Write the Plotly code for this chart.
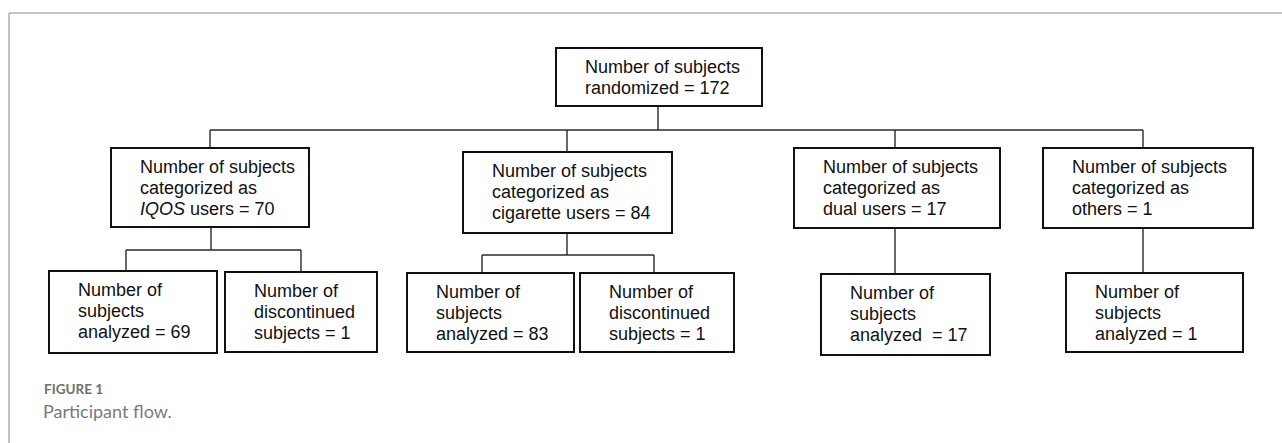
import plotly.graph_objects as go

# ---- data (node labels) ----
node_ids = ["root", "iqos", "cig", "dual", "others",
            "iqos_an", "iqos_dc", "cig_an", "cig_dc", "dual_an", "oth_an"]
node_lines = [
    ["Number of subjects", "randomized = 172"],
    ["Number of subjects", "categorized as", "<i>IQOS</i> users = 70"],
    ["Number of subjects", "categorized as", "cigarette users = 84"],
    ["Number of subjects", "categorized as", "dual users = 17"],
    ["Number of subjects", "categorized as", "others = 1"],
    ["Number of", "subjects", "analyzed = 69"],
    ["Number of", "discontinued", "subjects = 1"],
    ["Number of", "subjects", "analyzed = 83"],
    ["Number of", "discontinued", "subjects = 1"],
    ["Number of", "subjects", "analyzed  = 17"],
    ["Number of", "subjects", "analyzed = 1"],
]
caption_label = "FIGURE 1"
caption_text = "Participant flow."

# ---- layout (pixel geometry: left, right, top, bottom) ----
box_x0 = [556, 111, 463, 794, 1043, 49, 225, 407, 580, 821, 1066]
box_x1 = [762, 309, 672, 1000, 1253, 217, 377, 574, 734, 990, 1243]
box_y0 = [48, 148, 152, 148, 148, 271, 272, 273, 273, 274, 273]
box_y1 = [106, 227, 233, 228, 228, 353, 352, 352, 352, 355, 352]

# connector segments: (x0, y0, x1, y1)
conn_x0 = [658, 210, 210, 567, 895, 1143,
           211, 126, 126, 301,
           567, 482, 482, 654,
           895, 1143]
conn_y0 = [106, 130, 130, 130, 130, 130,
           227, 250, 250, 250,
           233, 255, 255, 255,
           228, 228]
conn_x1 = [658, 1143, 210, 567, 895, 1143,
           211, 301, 126, 301,
           567, 654, 482, 654,
           895, 1143]
conn_y1 = [130, 130, 148, 152, 148, 148,
           250, 250, 271, 272,
           255, 255, 273, 273,
           274, 273]

W, H = 1282, 443
TXT_FONT = "Liberation Sans, Arial, sans-serif"

fig = go.Figure()
fig.add_trace(go.Scatter(x=[0, W], y=[0, H], mode="markers",
                         marker=dict(opacity=0), hoverinfo="skip", showlegend=False))

shapes = []
# outer frame (left and top edges)
shapes.append(dict(type="line", x0=9, y0=13, x1=W, y1=13,
                   line=dict(color="#8a8a8a", width=1)))
shapes.append(dict(type="line", x0=9, y0=13, x1=9, y1=H,
                   line=dict(color="#8a8a8a", width=1)))

for a, b, c, d in zip(conn_x0, conn_y0, conn_x1, conn_y1):
    shapes.append(dict(type="line", x0=a, y0=b, x1=c, y1=d,
                       line=dict(color="#2a2a2a", width=1.4)))

for x0, x1, y0, y1 in zip(box_x0, box_x1, box_y0, box_y1):
    shapes.append(dict(type="rect", x0=x0, x1=x1, y0=y0, y1=y1,
                       line=dict(color="#111111", width=2), fillcolor="white"))

annotations = []
for x0, y0, lines in zip(box_x0, box_y0, node_lines):
    for i, t in enumerate(lines):
        annotations.append(dict(x=x0 + 27, y=y0 + 19 + 21 * i, text=t,
                                xref="x", yref="y", xanchor="left", yanchor="middle",
                                showarrow=False,
                                font=dict(family=TXT_FONT, size=18, color="#111111")))

annotations.append(dict(x=42, y=389, text="<b>" + caption_label + "</b>", xref="x", yref="y",
                        xanchor="left", yanchor="middle", showarrow=False,
                        font=dict(family="Lato, Open Sans, sans-serif", size=13.5, color="#6f6f6f")))
annotations.append(dict(x=41, y=411, text=caption_text, xref="x", yref="y",
                        xanchor="left", yanchor="middle", showarrow=False,
                        font=dict(family="Lato, Open Sans, sans-serif", size=18, color="#7a7a7a")))

fig.update_layout(
    width=W, height=H,
    margin=dict(l=0, r=0, t=0, b=0),
    paper_bgcolor="white", plot_bgcolor="white",
    xaxis=dict(range=[0, W], visible=False, fixedrange=True),
    yaxis=dict(range=[H, 0], visible=False, fixedrange=True),
    shapes=shapes, annotations=annotations,
    showlegend=False,
)

fig.write_html("out.html", config={"displayModeBar": False},
               post_script="document.body.style.margin='0px';document.body.style.overflow='hidden';")
